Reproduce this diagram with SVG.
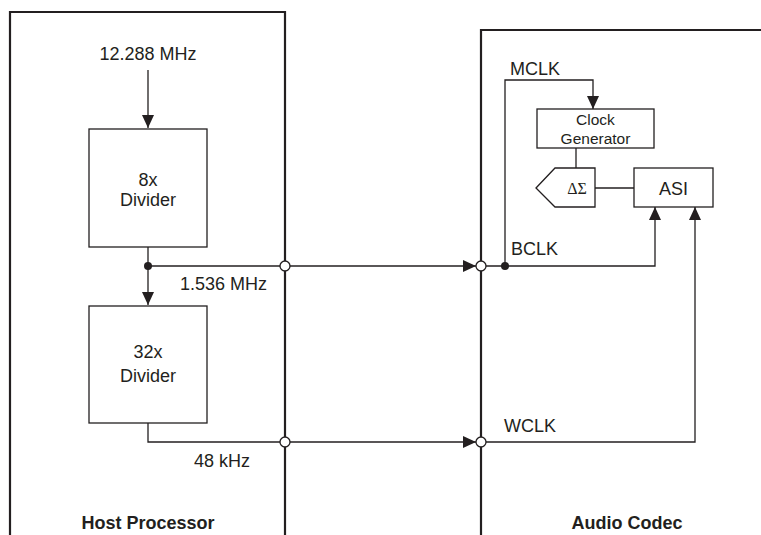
<svg xmlns="http://www.w3.org/2000/svg" width="761" height="535" viewBox="0 0 761 535">
<style>
.t{font-family:"Liberation Sans",Arial,sans-serif;font-size:18px;fill:#231f20;text-anchor:middle}
.ts{font-size:15.5px}
.b{font-weight:bold}
.l{text-anchor:start}
.frame{fill:none;stroke:#231f20;stroke-width:2.2}
.box{fill:#fff;stroke:#231f20;stroke-width:1.3}
.w{fill:none;stroke:#231f20;stroke-width:1.3}
.oc{fill:#fff;stroke:#231f20;stroke-width:1.3}
.dot{fill:#231f20}
</style>
<defs>
<marker id="ah" markerWidth="13" markerHeight="12" refX="13" refY="6" orient="auto" markerUnits="userSpaceOnUse">
<path d="M0,0 L13,6 L0,12 Z" fill="#231f20"/>
</marker>
</defs>
<rect width="761" height="535" fill="#fff"/>
<g id="host-processor">
<path class="frame" d="M10,535 V12 H285 V535"/>
<text class="t b" x="148" y="529">Host Processor</text>
</g>
<g id="audio-codec">
<path class="frame" d="M481,535 V30 H761"/>
<text class="t b" x="627" y="529">Audio Codec</text>
</g>
<g id="connectors">
<path class="w" d="M148,70 V128" marker-end="url(#ah)"/>
<path class="w" d="M148,247 V305" marker-end="url(#ah)"/>
<path class="w" d="M148,266 H476" marker-end="url(#ah)"/>
<path class="w" d="M148,423 V442 H476" marker-end="url(#ah)"/>
<path class="w" d="M481,266 H655 V207" marker-end="url(#ah)"/>
<path class="w" d="M481,442 H695 V207" marker-end="url(#ah)"/>
<path class="w" d="M505,266 V80 H593 V109" marker-end="url(#ah)"/>
<path class="w" d="M576,148 V168"/>
<path class="w" d="M595,188 H634"/>
<circle class="dot" cx="148" cy="266" r="4"/>
<circle class="dot" cx="505" cy="266" r="4"/>
<circle class="oc" cx="285" cy="266" r="5"/>
<circle class="oc" cx="481" cy="266" r="5"/>
<circle class="oc" cx="285" cy="442" r="5"/>
<circle class="oc" cx="481" cy="442" r="5"/>
</g>
<g id="labels">
<text class="t" x="148" y="60">12.288 MHz</text>
<text class="t l" x="180" y="290">1.536 MHz</text>
<text class="t l" x="194" y="467">48 kHz</text>
<text class="t l" x="510" y="75">MCLK</text>
<text class="t l" x="511" y="255">BCLK</text>
<text class="t l" x="504" y="432">WCLK</text>
</g>
<g id="divider-8x">
<rect class="box" x="89" y="129" width="118" height="118"/>
<text class="t" x="148" y="186">8x</text>
<text class="t" x="148" y="206">Divider</text>
</g>
<g id="divider-32x">
<rect class="box" x="89" y="306" width="118" height="117"/>
<text class="t" x="148" y="358">32x</text>
<text class="t" x="148" y="382">Divider</text>
</g>
<g id="clock-generator">
<rect class="box" x="537" y="109" width="117" height="39"/>
<text class="t ts" x="595.5" y="125">Clock</text>
<text class="t ts" x="595.5" y="144">Generator</text>
</g>
<g id="delta-sigma">
<path class="box" d="M536,188 L555,168 H595 V207 H555 Z"/>
<text x="577" y="194" style="font-family:'Liberation Serif','Times New Roman',serif;font-size:16px;fill:#231f20;text-anchor:middle">ΔΣ</text>
</g>
<g id="asi">
<rect class="box" x="634" y="168" width="79" height="39"/>
<text class="t" x="673.5" y="195">ASI</text>
</g>
</svg>
